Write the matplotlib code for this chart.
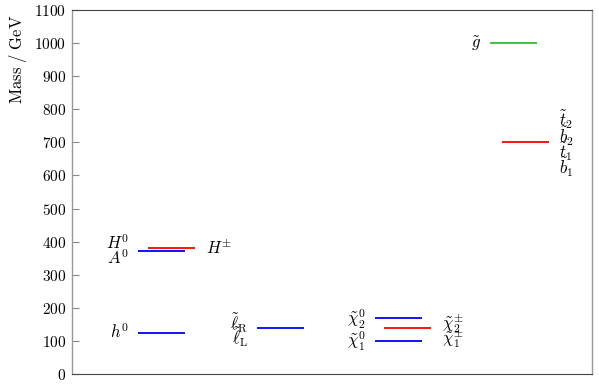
import matplotlib
matplotlib.use("Agg")
import matplotlib.pyplot as plt
from matplotlib.ticker import FixedLocator, FixedFormatter

plt.rcParams['mathtext.fontset'] = 'cm'
plt.rcParams['font.family'] = ['DejaVu Serif']

# Particle masses (GeV)
names = ['h0', 'A0', 'Hpm', 'sl', 'N2', 'C', 'N1', 'gl', 'sq']
masses = [125, 372, 380, 140, 170, 140, 100, 1000, 700]
colors = ['blue', 'blue', 'red', 'blue', 'blue', 'red', 'blue', '#33bb33', 'red']
# horizontal extent of each level (arbitrary plot units)
x_start = [66, 66, 76, 185, 303, 312, 303, 418, 430]
level_width = 47

yticks = [0, 100, 200, 300, 400, 500, 600, 700, 800, 900, 1000, 1100]
ytick_labels = [f'${v}$' for v in yticks]

fig = plt.figure(figsize=(5.99, 3.9), dpi=100)
ax = fig.add_axes([72/599, 16/390, 520/599, 364/390])

for x0, m, c in zip(x_start, masses, colors):
    ax.hlines(m, x0, x0 + level_width, colors=c, lw=1.3)

fs = 12
# Labels
ax.text(57, 125, r'$h^0$', ha='right', va='center', fontsize=fs)
ax.text(57, 393, r'$H^0$', ha='right', va='center', fontsize=fs)
ax.text(57, 348, r'$A^0$', ha='right', va='center', fontsize=fs)
ax.text(134, 380, r'$H^{\pm}$', ha='left', va='center', fontsize=fs)
ax.text(176, 155, r'$\tilde{\ell}_{\mathrm{R}}$', ha='right', va='center', fontsize=fs)
ax.text(176, 112, r'$\tilde{\ell}_{\mathrm{L}}$', ha='right', va='center', fontsize=fs)
ax.text(294, 165, r'$\tilde{\chi}_2^0$', ha='right', va='center', fontsize=fs)
ax.text(294, 98, r'$\tilde{\chi}_1^0$', ha='right', va='center', fontsize=fs)
ax.text(370, 152, r'$\tilde{\chi}_2^{\pm}$', ha='left', va='center', fontsize=fs)
ax.text(370, 108, r'$\tilde{\chi}_1^{\pm}$', ha='left', va='center', fontsize=fs)
ax.text(409, 1000, r'$\tilde{g}$', ha='right', va='center', fontsize=fs)
ax.text(487, 768, r'$\tilde{t}_2$', ha='left', va='center', fontsize=fs)
ax.text(487, 720, r'$\tilde{b}_2$', ha='left', va='center', fontsize=fs)
ax.text(487, 672, r'$\tilde{t}_1$', ha='left', va='center', fontsize=fs)
ax.text(487, 625, r'$\tilde{b}_1$', ha='left', va='center', fontsize=fs)

ax.set_xlim(0, 520)
ax.set_ylim(0, 1100)
ax.set_xticks([])
ax.yaxis.set_major_locator(FixedLocator(yticks))
ax.yaxis.set_major_formatter(FixedFormatter(ytick_labels))
ax.tick_params(axis='y', direction='in', length=5, width=0.8, color='#888888',
               labelsize=11, pad=4)
ax.set_ylabel(r'$\mathrm{Mass\ /\ GeV}$', fontsize=12, loc='top')
ax.yaxis.set_label_coords(-0.082, 0.987)

for s in ['left', 'right']:
    ax.spines[s].set_color('#999999')
    ax.spines[s].set_linewidth(1.0)
for s in ['top', 'bottom']:
    ax.spines[s].set_color('#444444')
    ax.spines[s].set_linewidth(0.8)

fig.savefig('out.png', dpi=100)
